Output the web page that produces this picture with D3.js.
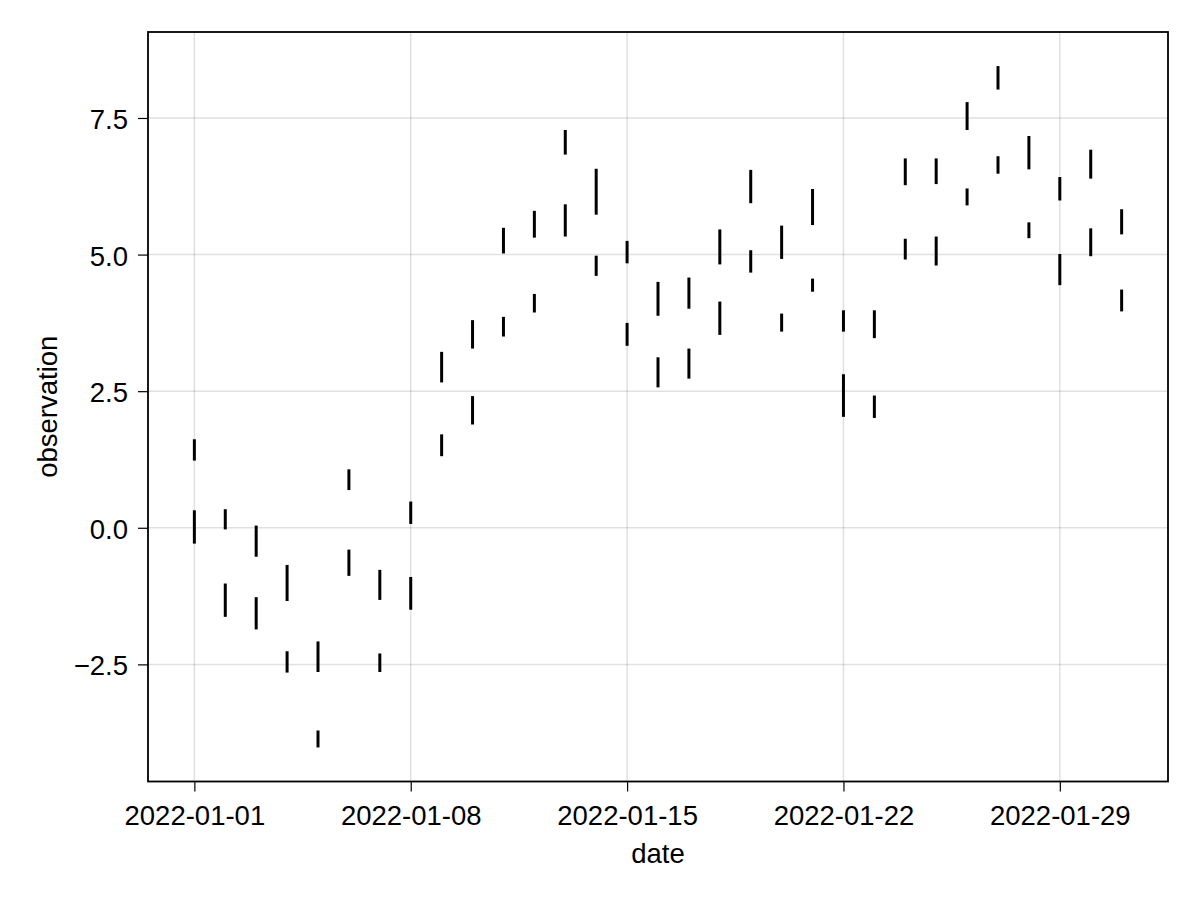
<!DOCTYPE html>
<html>
<head>
<meta charset="utf-8">
<script src="https://cdn.jsdelivr.net/npm/d3@7"></script>
<style>
  html, body { margin: 0; padding: 0; background: #fff; }
  svg { display: block; }
  text { font-family: "Liberation Sans", Arial, Helvetica, sans-serif; fill: #000; }
</style>
</head>
<body>
<svg id="chart" width="1200" height="900"></svg>
<script>
// ---- data ----
const dates = d3.range(1, 32).map(d => `2022-01-${String(d).padStart(2, "0")}`);
const upperHigh = [1.62, 0.34, 0.04, -0.68, -2.08, 1.07, -0.77, 0.48, 3.22, 3.80, 5.49, 5.80, 7.28, 6.57, 5.25, 4.50, 4.58, 5.46, 6.55, 5.53, 6.20, 3.98, 3.98, 6.76, 6.76, 7.79, 8.45, 7.17, 6.42, 6.92, 5.83];
const upperLow  = [1.23, -0.03, -0.53, -1.34, -2.64, 0.69, -1.32, 0.07, 2.66, 3.28, 5.02, 5.31, 6.83, 5.73, 4.84, 3.88, 4.01, 4.82, 5.94, 4.92, 5.54, 3.59, 3.47, 6.27, 6.29, 7.28, 8.02, 6.56, 5.99, 6.39, 5.37];
const lowerHigh = [0.32, -1.02, -1.27, -2.26, -3.71, -0.40, -2.30, -0.90, 1.71, 2.41, 3.86, 4.28, 5.92, 4.98, 3.75, 3.12, 3.28, 4.14, 5.08, 3.92, 4.56, 2.81, 2.42, 5.29, 5.33, 6.21, 6.80, 5.59, 5.01, 5.48, 4.36];
const lowerLow  = [-0.29, -1.63, -1.86, -2.65, -4.02, -0.88, -2.64, -1.50, 1.31, 1.89, 3.50, 3.94, 5.33, 4.61, 3.33, 2.57, 2.73, 3.53, 4.67, 3.59, 4.32, 2.03, 2.01, 4.91, 4.80, 5.90, 6.48, 5.30, 4.44, 4.97, 3.96];
const xTickLabels = ["2022-01-01", "2022-01-08", "2022-01-15", "2022-01-22", "2022-01-29"];
const yTickValues = [-2.5, 0.0, 2.5, 5.0, 7.5];
const xLabel = "date";
const yLabel = "observation";

// ---- layout ----
const W = 1200, H = 900;
const margin = { left: 148, right: 32, top: 32, bottom: 118.5 };
const pw = W - margin.left - margin.right;
const ph = H - margin.top - margin.bottom;
const FS = 27.5;

const parse = d3.utcParse("%Y-%m-%d");
const dateObjs = dates.map(parse);
const tMin = d3.min(dateObjs).getTime(), tMax = d3.max(dateObjs).getTime();
const tPad = (tMax - tMin) * 0.05;
const x = d3.scaleUtc()
  .domain([new Date(tMin - tPad), new Date(tMax + tPad)])
  .range([0, pw]);

const allVals = upperHigh.concat(upperLow, lowerHigh, lowerLow);
const vMin = d3.min(allVals), vMax = d3.max(allVals);
const vPad = (vMax - vMin) * 0.05;
const y = d3.scaleLinear().domain([vMin - vPad, vMax + vPad]).range([ph, 0]);

const svg = d3.select("#chart");
const g = svg.append("g").attr("transform", `translate(${margin.left},${margin.top})`);

const xTicks = xTickLabels.map(parse);

// grid
g.append("g").selectAll("line").data(xTicks).join("line")
  .attr("x1", d => x(d)).attr("x2", d => x(d))
  .attr("y1", 0).attr("y2", ph)
  .attr("stroke", "rgba(0,0,0,0.12)").attr("stroke-width", 1.5);
g.append("g").selectAll("line").data(yTickValues).join("line")
  .attr("x1", 0).attr("x2", pw)
  .attr("y1", d => y(d)).attr("y2", d => y(d))
  .attr("stroke", "rgba(0,0,0,0.12)").attr("stroke-width", 1.5);

// range bars
const bars = [];
dates.forEach((d, i) => {
  bars.push({ date: dateObjs[i], lo: upperLow[i], hi: upperHigh[i] });
  bars.push({ date: dateObjs[i], lo: lowerLow[i], hi: lowerHigh[i] });
});
g.append("g").selectAll("line").data(bars).join("line")
  .attr("x1", d => x(d.date)).attr("x2", d => x(d.date))
  .attr("y1", d => y(d.lo)).attr("y2", d => y(d.hi))
  .attr("stroke", "#000").attr("stroke-width", 3);

// axes
const fmtY = v => d3.format(".1f")(v).replace("-", "\u2212");
const xAxis = d3.axisBottom(x).tickValues(xTicks).tickFormat(d3.utcFormat("%Y-%m-%d")).tickSize(10).tickPadding(4);
const yAxis = d3.axisLeft(y).tickValues(yTickValues).tickFormat(fmtY).tickSize(10).tickPadding(10);

const gx = g.append("g").attr("transform", `translate(0,${ph})`).call(xAxis);
const gy = g.append("g").call(yAxis);
[gx, gy].forEach(a => {
  a.select(".domain").remove();
  a.selectAll(".tick line").attr("stroke", "#000").attr("stroke-width", 1.2);
  a.selectAll(".tick text").attr("font-size", FS).attr("font-family", '"Liberation Sans", Arial, sans-serif').attr("fill", "#000");
});
gx.selectAll(".tick text").attr("dy", null).attr("y", 825 - margin.top - ph).attr("dominant-baseline", "alphabetic");
gy.selectAll(".tick text").attr("dy", null).attr("dominant-baseline", "alphabetic").attr("y", 10.5);

// frame
g.append("rect").attr("x", 0).attr("y", 0).attr("width", pw).attr("height", ph)
  .attr("fill", "none").attr("stroke", "#000").attr("stroke-width", 1.8);

// axis labels
svg.append("text").attr("x", margin.left + pw / 2).attr("y", 863)
  .attr("text-anchor", "middle").attr("font-size", FS).text(xLabel);
svg.append("text").attr("transform", `translate(57,${margin.top + ph / 2}) rotate(-90)`)
  .attr("text-anchor", "middle").attr("font-size", FS).text(yLabel);
</script>
</body>
</html>
